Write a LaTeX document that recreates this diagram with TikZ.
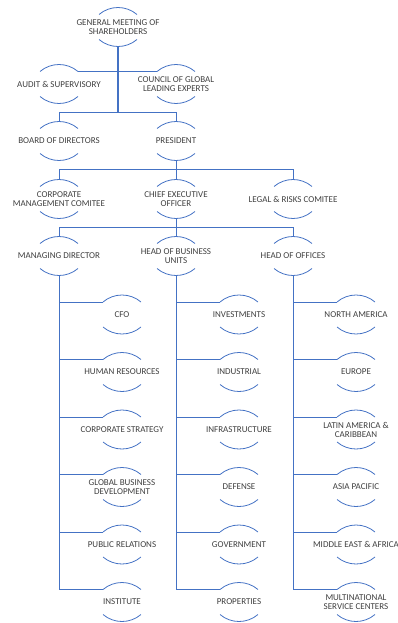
\documentclass[tikz,border=0pt]{standalone}
\usepackage{fontspec}
\setmainfont{Carlito}
\usetikzlibrary{positioning}
\definecolor{lnk}{HTML}{4472C4}
\definecolor{txt}{HTML}{3F3F3F}
\tikzset{unit/.style={text=txt,font=\fontsize{9}{9}\selectfont,align=center,inner sep=0pt,minimum height=39pt}}
\tikzset{link/.style={draw=lnk,line width=1pt}}
\tikzset{trunk/.style={draw=lnk,line width=1.7pt}}
\tikzset{rim/.style={draw=lnk,line width=0.8pt}}

\begin{document}
\begin{tikzpicture}[x=1pt,y=1pt,on grid,every node/.style={unit}]
        \useasboundingbox (0,0) rectangle (397,-623);
        \node(gm) at (118,-27){GENERAL MEETING OF\\SHAREHOLDERS};
        \node(audit)[below left=57pt and 59pt of gm]{AUDIT \& SUPERVISORY};
        \node(council)[below right=57pt and 58pt of gm]{COUNCIL OF GLOBAL\\LEADING EXPERTS};
        \node(board)[below=57pt of audit]{BOARD OF DIRECTORS};
        \node(pres)[below=57pt of council]{PRESIDENT};
        \node(cmc)[below=58pt of board]{CORPORATE\\MANAGEMENT COMITEE};
        \node(ceo)[below=58pt of pres]{CHIEF EXECUTIVE\\OFFICER};
        \node(legal)[right=117pt of ceo]{LEGAL \& RISKS COMITEE};
        \node(md)[below=57pt of cmc]{MANAGING DIRECTOR};
        \node(hobu)[below=57pt of ceo]{HEAD OF BUSINESS\\UNITS};
        \node(ho)[below=57pt of legal]{HEAD OF OFFICES};
        % under the managing director
        \node(cfo)[below right=58.5pt and 63pt of md]{CFO};
        \node(hr)[below=57.5pt of cfo]{HUMAN RESOURCES};
        \node(cs)[below=57.5pt of hr]{CORPORATE STRATEGY};
        \node(gbd)[below=57.5pt of cs]{GLOBAL BUSINESS\\DEVELOPMENT};
        \node(pr)[below=57.5pt of gbd]{PUBLIC RELATIONS};
        \node(inst)[below=57.5pt of pr]{INSTITUTE};
        % business units
        \node(inv)[below right=58.5pt and 63pt of hobu]{INVESTMENTS};
        \node(ind)[below=57.5pt of inv]{INDUSTRIAL};
        \node(infra)[below=57.5pt of ind]{INFRASTRUCTURE};
        \node(def)[below=57.5pt of infra]{DEFENSE};
        \node(gov)[below=57.5pt of def]{GOVERNMENT};
        \node(prop)[below=57.5pt of gov]{PROPERTIES};
        % offices
        \node(na)[below right=58.5pt and 63pt of ho]{NORTH AMERICA};
        \node(eu)[below=57.5pt of na]{EUROPE};
        \node(lac)[below=57.5pt of eu]{LATIN AMERICA \&\\CARIBBEAN};
        \node(ap)[below=57.5pt of lac]{ASIA PACIFIC};
        \node(mea)[below=57.5pt of ap]{MIDDLE EAST \& AFRICA};
        \node(msc)[below=57.5pt of mea]{MULTINATIONAL\\SERVICE CENTERS};

        \foreach \n in {gm,audit,council,board,pres,cmc,ceo,legal,md,hobu,ho,
                cfo,hr,cs,gbd,pr,inst,inv,ind,infra,def,gov,prop,na,eu,lac,ap,mea,msc}
          \draw[rim] ([shift={(-19,12.5)}]\n.center) arc[start angle=130.43,end angle=49.57,radius=29.3]
                     ([shift={(-19,-12.5)}]\n.center) arc[start angle=229.57,end angle=310.43,radius=29.3];

        \draw[trunk] (gm.south) -- ++(0,-65.5);
        \draw[link] ([shift={(19,12.5)}]audit.center) -- ([shift={(-19,12.5)}]council.center);
        \draw[link] (board.north) -- ++(0,8.5) -| (pres.north);
        \draw[link] (pres.south) -- (ceo.north);
        \draw[link] (cmc.north) -- ++(0,9.5) -| (legal.north);
        \draw[link] (ceo.south) -- (hobu.north);
        \draw[link] (md.north) -- ++(0,8.5) -| (ho.north);
        \foreach \p/\c in {md/cfo,md/hr,md/cs,md/gbd,md/pr,md/inst,
                hobu/inv,hobu/ind,hobu/infra,hobu/def,hobu/gov,hobu/prop,
                ho/na,ho/eu,ho/lac,ho/ap,ho/mea,ho/msc}
          \draw[link] (\p.south) |- ([shift={(-19,12.5)}]\c.center);
\end{tikzpicture}
\end{document}
